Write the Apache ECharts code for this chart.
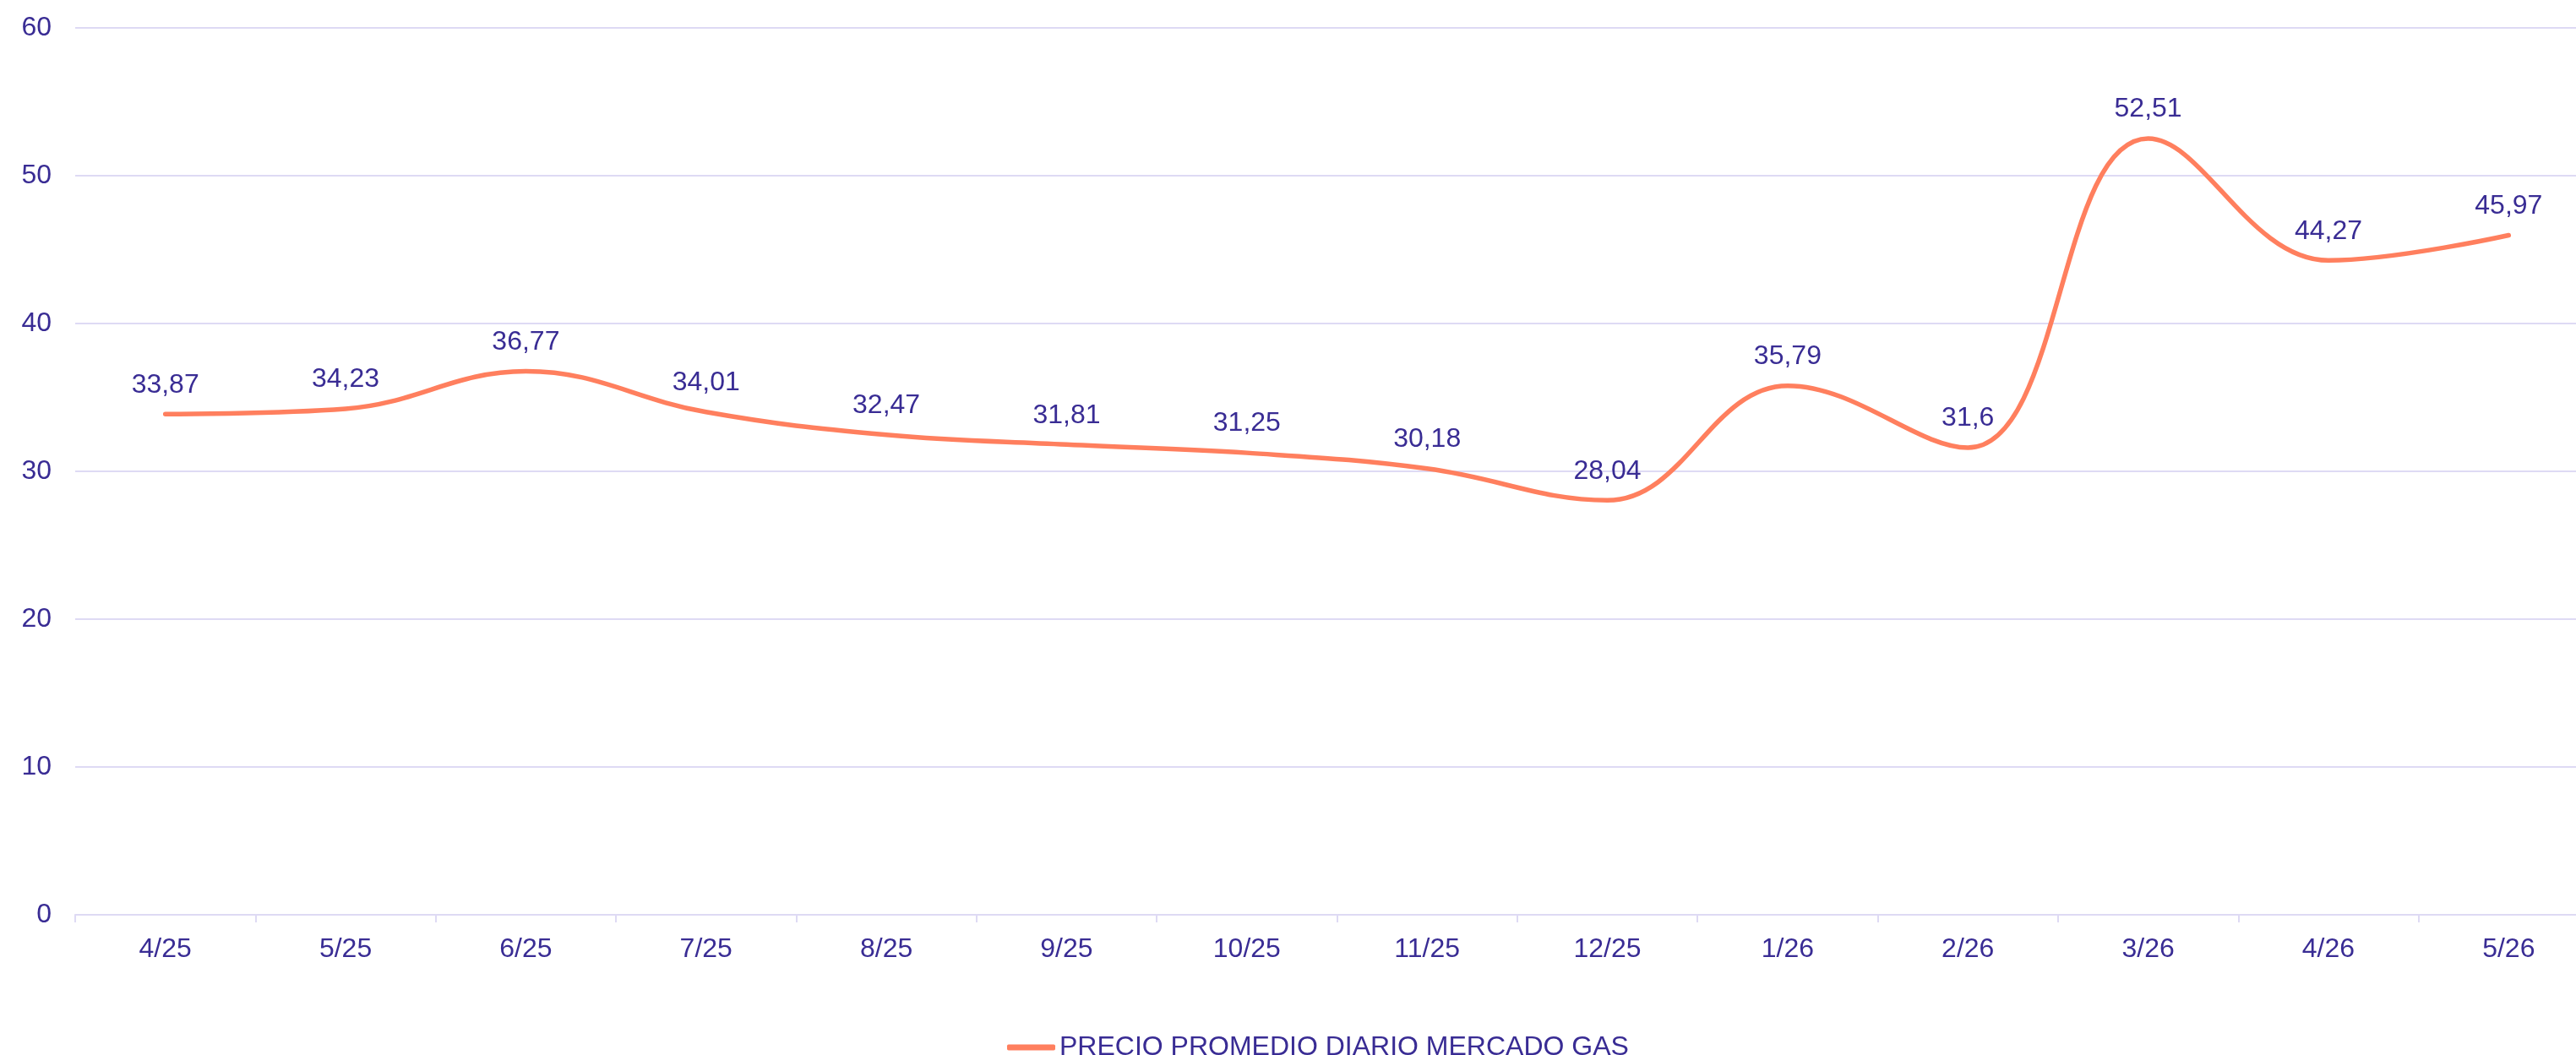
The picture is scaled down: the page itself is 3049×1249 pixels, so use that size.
<!DOCTYPE html>
<html>
<head>
	<meta charset="UTF-8">
	<title>Precio promedio diario mercado gas</title>
	<script src="https://cdn.jsdelivr.net/npm/echarts@6/dist/echarts.min.js"></script>
	<style>
		html, body { margin: 0; padding: 0; background: #ffffff; overflow: hidden; }
		/* el eje sigue un poco mas alla del borde derecho de la imagen */
		#chart { width: 3076px; height: 1249px; }
	</style>
</head>
<body>
<div id="chart"></div>
<script type="text/javascript">
	// datos
	var meses = ['4/25', '5/25', '6/25', '7/25', '8/25', '9/25', '10/25', '11/25', '12/25', '1/26', '2/26', '3/26', '4/26', '5/26'];
	var precio = [33.87, 34.23, 36.77, 34.01, 32.47, 31.81, 31.25, 30.18, 28.04, 35.79, 31.6, 52.51, 44.27, 45.97];
	var nombreSerie = 'PRECIO PROMEDIO DIARIO MERCADO GAS';

	var textColor = '#392c94';
	var gridColor = '#dedaf4';
	var lineColor = '#ff7f5e';
	var fuente = '"Liberation Sans", Arial, sans-serif';

	var chart = echarts.init(document.getElementById('chart'));

	var option = {
		animation: false,
		textStyle: { fontFamily: fuente },
		grid: {
			left: 89,
			right: 0,
			top: 33,
			bottom: 166,
			containLabel: false
		},
		legend: {
			left: 1187,
			top: 1219,
			icon: 'roundRect',
			itemWidth: 57,
			itemHeight: 7,
			itemGap: 5,
			textStyle: { color: textColor, fontSize: 32, fontFamily: fuente },
			data: [nombreSerie]
		},
		xAxis: {
			type: 'category',
			data: meses,
			boundaryGap: true,
			axisLine: { lineStyle: { color: gridColor, width: 2 } },
			axisTick: { show: true, length: 9, lineStyle: { color: gridColor, width: 2 } },
			axisLabel: { color: textColor, fontSize: 32, margin: 25 },
			splitLine: { show: false }
		},
		yAxis: {
			type: 'value',
			min: 0,
			max: 60,
			interval: 10,
			axisLine: { show: false },
			axisTick: { show: false },
			axisLabel: { color: textColor, fontSize: 32, margin: 28 },
			splitLine: { lineStyle: { color: gridColor, width: 2 } }
		},
		series: [
			{
				name: nombreSerie,
				type: 'line',
				data: precio,
				smooth: 0.4,
				symbol: 'circle',
				symbolSize: 1,
				showSymbol: true,
				lineStyle: { color: lineColor, width: 5.5, cap: 'round' },
				itemStyle: { color: lineColor },
				label: {
					show: true,
					position: 'top',
					distance: 18,
					color: textColor,
					fontSize: 32,
					formatter: function (p) {
						return String(p.value).replace('.', ',');
					}
				}
			}
		]
	};

	chart.setOption(option);
</script>
</body>
</html>
